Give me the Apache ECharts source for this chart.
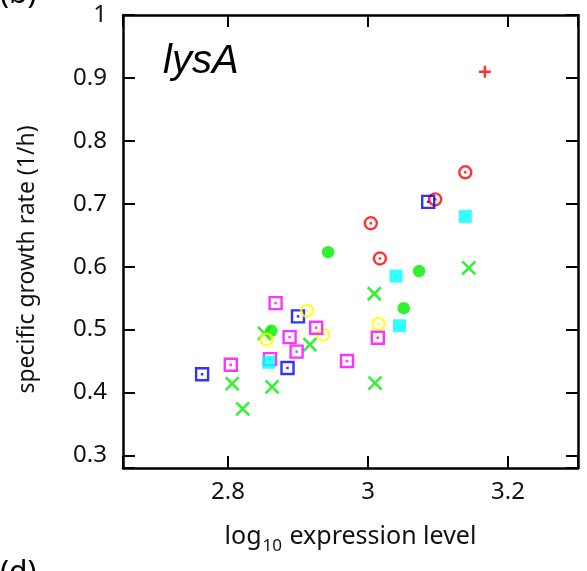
<!DOCTYPE html>
<html lang="en">
<head>
    <meta charset="UTF-8">
    <title>lysA growth vs expression</title>
    <script src="https://cdn.jsdelivr.net/npm/echarts@6/dist/echarts.min.js"></script>
    <style>
        html, body { margin: 0; padding: 0; background: #fff; }
    </style>
</head>
<body>
<div id="main" style="width: 587px;height:571px;"></div>
<script>
    // values: [log10 expression, growth rate]
    var redPlusX = [3.167];
    var redPlusY = [0.910];

    var redCircleX = [3.139, 3.096, 3.004, 3.017];
    var redCircleY = [0.750, 0.707, 0.669, 0.613];

    var blueSquareX = [3.086, 2.900, 2.885, 2.763];
    var blueSquareY = [0.703, 0.521, 0.439, 0.429];

    var greenCrossX = [3.144, 3.009, 2.852, 2.917, 2.806, 2.863, 3.010, 2.821];
    var greenCrossY = [0.598, 0.557, 0.494, 0.476, 0.414, 0.409, 0.415, 0.374];

    var greenDotX = [2.943, 3.073, 3.051, 2.862];
    var greenDotY = [0.623, 0.593, 0.534, 0.498];

    var yellowCircleX = [2.913, 2.936, 2.855, 3.015];
    var yellowCircleY = [0.530, 0.492, 0.484, 0.509];

    var magentaSquareX = [2.868, 2.926, 2.888, 2.898, 2.860, 2.970, 2.804, 3.014];
    var magentaSquareY = [0.542, 0.503, 0.488, 0.465, 0.453, 0.450, 0.444, 0.487];

    var cyanSquareX = [3.139, 3.040, 3.045, 2.858];
    var cyanSquareY = [0.680, 0.585, 0.506, 0.448];

    var xTicks = [2.8, 3, 3.2];
    var yTicks = [0.3, 0.4, 0.5, 0.6, 0.7, 0.8, 0.9, 1];

    function pairs(xs, ys) {
        var out = [];
        for (var i = 0; i < xs.length; i++) out.push([xs[i], ys[i]]);
        return out;
    }

    // hollow marker + small centre dot, both from the same points
    function ringSeries(xs, ys, symbol, color) {
        var d = pairs(xs, ys);
        return [{
            type: 'scatter', data: d, symbol: symbol, symbolSize: 12,
            itemStyle: { color: 'rgba(0,0,0,0)', borderColor: color, borderWidth: 2.4 }
        }, {
            type: 'scatter', data: d, symbol: 'rect', symbolSize: 2.5,
            itemStyle: { color: color }
        }];
    }

    var myChart = echarts.init(document.getElementById('main'), null, { renderer: 'canvas' });

    var tickFont = { fontFamily: 'Noto Sans', fontSize: 24, color: '#111' };

    function isTick(list, v) {
        for (var i = 0; i < list.length; i++) {
            if (Math.abs(list[i] - v) < 1e-6) return true;
        }
        return false;
    }

    var baseX = {
        type: 'value', min: 2.65, max: 3.3, splitNumber: 3,
        axisLine: { onZero: false, lineStyle: { color: '#000', width: 2.5 } },
        axisTick: { inside: true, length: 12, lineStyle: { color: '#000', width: 2 } },
        splitLine: { show: false }
    };
    var baseY = {
        type: 'value', min: 0.28, max: 1, splitNumber: 7,
        axisLine: { onZero: false, lineStyle: { color: '#000', width: 2.5 } },
        axisTick: { inside: true, length: 12, lineStyle: { color: '#000', width: 2 } },
        splitLine: { show: false }
    };

    var series = [];
    series.push({
        type: 'scatter', data: pairs(redPlusX, redPlusY),
        symbol: 'path://M5,0L5,10M0,5L10,5', symbolSize: 12,
        itemStyle: { color: 'rgba(0,0,0,0)', borderColor: '#ff0000', borderWidth: 2.5 }
    });
    series = series.concat(ringSeries(redCircleX, redCircleY, 'circle', '#ff0000'));
    series = series.concat(ringSeries(blueSquareX, blueSquareY, 'rect', '#0000ff'));
    series.push({
        type: 'scatter', data: pairs(greenCrossX, greenCrossY),
        symbol: 'path://M0,0L10,10M10,0L0,10', symbolSize: 13,
        itemStyle: { color: 'rgba(0,0,0,0)', borderColor: '#00ee00', borderWidth: 2.6 }
    });
    series.push({
        type: 'scatter', data: pairs(greenDotX, greenDotY),
        symbol: 'circle', symbolSize: 12.5,
        itemStyle: { color: '#00ee00' }
    });
    series = series.concat(ringSeries(yellowCircleX, yellowCircleY, 'circle', '#ffff00'));
    series = series.concat(ringSeries(magentaSquareX, magentaSquareY, 'rect', '#ff00ff'));
    series.push({
        type: 'scatter', data: pairs(cyanSquareX, cyanSquareY),
        symbol: 'rect', symbolSize: 13,
        itemStyle: { color: '#00ffff' }
    });
    series.forEach(function (s) {
        s.silent = true;
        s.animation = false;
        s.emphasis = { disabled: true };
    });

    var option = {
        animation: false,
        backgroundColor: '#fff',
        grid: { left: 123, right: 9, top: 15, bottom: 103, containLabel: false },
        xAxis: [
            Object.assign({}, baseX, {
                position: 'bottom',
                name: '{a|log}{s|10}{a| expression level}',
                nameLocation: 'middle', nameGap: 56,
                nameTextStyle: {
                    rich: {
                        a: { fontFamily: 'Noto Sans', fontSize: 25, color: '#111', verticalAlign: 'top' },
                        s: { fontFamily: 'Noto Sans', fontSize: 17, color: '#111', verticalAlign: 'top', padding: [14, 1, 0, 1] }
                    }
                },
                axisLabel: Object.assign({}, tickFont, {
                    margin: 12,
                    formatter: function (v) { return isTick(xTicks, v) ? String(v) : ''; }
                })
            }),
            Object.assign({}, baseX, { position: 'top', axisLabel: { show: false } })
        ],
        yAxis: [
            Object.assign({}, baseY, {
                position: 'left',
                name: 'specific growth rate (1/h)',
                nameLocation: 'middle', nameGap: 84,
                nameTextStyle: { fontFamily: 'Noto Sans', fontSize: 23, color: '#111', padding: [0, 36, 0, 0] },
                axisLabel: Object.assign({}, tickFont, {
                    margin: 16,
                    formatter: function (v) { return isTick(yTicks, v) ? String(v) : ''; }
                })
            }),
            Object.assign({}, baseY, { position: 'right', axisLabel: { show: false } })
        ],
        graphic: [
            { type: 'text', left: 163, top: 42, silent: true,
              style: { text: 'lysA', font: 'italic 40px "Liberation Sans"', fill: '#000' } },
            { type: 'text', left: 0, top: -21, silent: true,
              style: { text: '(b)', font: '30px "Noto Sans"', fill: '#000' } },
            { type: 'text', left: 0, top: 558, silent: true,
              style: { text: '(d)', font: '30px "Noto Sans"', fill: '#000' } }
        ],
        series: series
    };

    myChart.setOption(option);
</script>
</body>
</html>
